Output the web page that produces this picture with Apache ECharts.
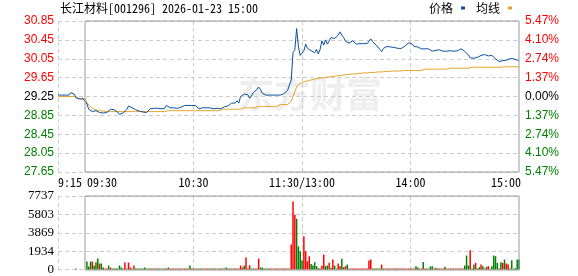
<!DOCTYPE html>
<html><head><meta charset="utf-8">
<script src="https://cdn.jsdelivr.net/npm/echarts@6/dist/echarts.min.js"></script>
<style>html,body{margin:0;padding:0;background:#fff}#c{width:578px;height:276px}</style>
</head><body><div id="c"></div>
<script>
const stockTitle = '长江材料[001296] 2026-01-23 15:00';
const legendNames = ['价格', '均线'];
const watermarkText = '东方财富';
const preClose = 29.25;
const priceTicks = ['27.65','28.05','28.45','28.85','29.25','29.65','30.05','30.45','30.85'];
const pctTicks = ['5.47%','4.10%','2.74%','1.37%','0.00%','1.37%','2.74%','4.10%','5.47%'];
const volTicks = ['0','1934','3869','5803','7737'];
const volMax = 7737;
const xTickIdx = [0, 15, 75, 135, 195, 255];
const xTickText = ['9:15', '09:30', '10:30', '11:30/13:00', '14:00', '15:00'];
const xGridIdx = [0, 75, 135, 195];

// price (9:15-9:29 auction, 9:30-11:30, 13:01-15:00)
const pricePre = [29.28,29.28,29.28,29.28,29.28,29.28,29.28,29.33,29.35,29.30,29.22,29.20,29.20,29.20,29.20];
const priceAM = [
29.21,29.09,28.98,28.95,28.93,28.93,28.95,28.94,28.91,28.92,
28.90,28.90,28.91,28.91,28.98,29.00,28.97,28.93,28.92,28.87,
28.88,28.90,28.91,28.97,29.05,29.05,29.01,29.00,28.97,28.95,
28.94,28.92,28.92,28.92,28.91,28.93,28.99,29.01,29.00,29.00,
29.00,28.98,28.99,28.98,29.00,29.06,29.02,29.01,29.01,29.01,
29.00,29.00,29.00,29.02,29.06,29.06,29.08,29.06,29.04,29.06,
29.04,29.06,29.02,28.99,28.97,29.01,29.01,29.01,29.01,29.01,
29.00,28.99,29.01,29.00,29.01,28.99,28.99,29.03,29.05,29.05,
29.09,29.11,29.12,29.11,29.16,29.11,29.25,29.24,29.30,29.26,
29.29,29.21,29.26,29.33,29.34,29.40,29.45,29.40,29.32,29.29,
29.28,29.28,29.28,29.28,29.28,29.28,29.28,29.28,29.28,29.28,
29.31,29.33,29.38,29.41,29.60,30.18,30.24,30.69,30.30,30.12,
30.15];
const pricePM = [
30.22,30.36,30.27,30.29,30.22,30.25,30.18,30.25,30.15,30.25,
30.43,30.34,30.45,30.36,30.38,30.50,30.53,30.48,30.49,30.55,
30.62,30.55,30.50,30.42,30.39,30.38,30.40,30.43,30.40,30.36,
30.37,30.37,30.37,30.37,30.37,30.37,30.40,30.47,30.41,30.38,
30.34,30.30,30.25,30.20,30.27,30.28,30.31,30.31,30.30,30.30,
30.29,30.28,30.27,30.27,30.27,30.28,30.32,30.36,30.39,30.40,
30.36,30.31,30.29,30.30,30.28,30.26,30.22,30.26,30.24,30.26,
30.23,30.21,30.22,30.23,30.24,30.24,30.23,30.21,30.21,30.21,
30.22,30.22,30.21,30.21,30.22,30.22,30.24,30.26,30.25,30.21,
30.17,30.13,30.07,30.10,30.06,30.10,30.08,30.10,30.12,30.16,
30.14,30.12,30.11,30.11,30.12,30.11,30.05,30.02,29.99,29.97,
30.01,30.04,30.02,30.04,30.05,30.04,30.05,30.03,30.02,30.02];

// average price
const avgPre = [29.25,29.25,29.25,29.25,29.25,29.25,29.25,29.25,29.25,29.25,29.25,29.20,29.20,29.20,29.20];
const avgAM = [
29.20,29.12,29.07,29.03,29.00,28.98,28.97,28.96,28.95,28.94,
28.94,28.94,28.93,28.93,28.93,28.93,28.93,28.93,28.93,28.93,
28.93,28.93,28.93,28.93,28.93,28.93,28.93,28.93,28.93,28.93,
28.93,28.93,28.93,28.93,28.93,28.93,28.93,28.93,28.93,28.93,
28.93,28.93,28.93,28.93,28.93,28.95,28.95,28.95,28.95,28.95,
28.95,28.95,28.95,28.95,28.95,28.95,28.95,28.95,28.95,28.95,
28.95,28.95,28.95,28.95,28.95,28.95,28.95,28.95,28.95,28.95,
28.95,28.95,28.95,28.95,28.95,28.98,28.98,28.98,28.98,28.98,
28.98,28.98,28.98,28.98,28.98,28.98,28.98,29.01,29.01,29.01,
29.01,29.01,29.01,29.01,29.01,29.01,29.04,29.04,29.04,29.04,
29.04,29.04,29.04,29.04,29.04,29.04,29.04,29.08,29.08,29.08,
29.08,29.08,29.08,29.10,29.15,29.25,29.35,29.45,29.50,29.53,
29.55];
const avgPM = [
29.56,29.57,29.58,29.59,29.60,29.61,29.62,29.63,29.63,29.64,
29.64,29.65,29.66,29.66,29.67,29.67,29.68,29.68,29.69,29.69,
29.70,29.70,29.70,29.71,29.71,29.72,29.72,29.73,29.73,29.73,
29.74,29.74,29.74,29.75,29.75,29.75,29.76,29.76,29.76,29.76,
29.77,29.77,29.77,29.77,29.78,29.78,29.78,29.78,29.78,29.79,
29.79,29.79,29.79,29.79,29.80,29.80,29.80,29.80,29.80,29.80,
29.80,29.80,29.80,29.80,29.80,29.80,29.83,29.83,29.83,29.83,
29.83,29.83,29.83,29.83,29.83,29.83,29.83,29.83,29.83,29.83,
29.83,29.85,29.85,29.85,29.85,29.85,29.85,29.85,29.85,29.85,
29.85,29.85,29.87,29.87,29.87,29.87,29.87,29.87,29.87,29.87,
29.87,29.87,29.87,29.87,29.87,29.87,29.87,29.87,29.87,29.87,
29.87,29.88,29.88,29.88,29.88,29.88,29.88,29.88,29.88,29.88];

// volume (hands) and direction r = up, g = down
const volPre = [null,null,null,null,null,null,null,null,null,null,100,null,null,null,null];
const volAM = [
null,840,310,840,840,420,770,1150,630,630,
210,105,105,420,210,105,105,105,105,420,
210,105,730,105,730,210,105,420,105,105,
105,105,105,210,105,105,105,105,105,105,
105,105,105,105,105,105,210,105,105,105,
105,105,105,105,105,105,105,105,420,105,
105,105,105,105,105,105,105,105,105,105,
105,105,105,105,105,105,105,105,210,105,
105,105,105,105,105,105,420,210,420,1260,
105,450,105,105,105,105,1150,210,210,105,
105,105,105,105,105,105,105,105,105,105,
105,105,105,105,2620,7150,5760,5340,2440,1920,
940];
const volPM = [
3490,1920,870,1400,590,420,770,350,140,105,
420,1570,350,420,700,175,1050,420,105,630,
350,1120,245,350,520,105,105,105,105,105,
105,105,105,105,105,105,940,1050,105,105,
105,105,105,520,105,105,105,105,105,105,
105,105,105,105,105,105,105,105,105,105,
105,105,350,210,105,105,800,105,105,105,
315,350,105,175,105,105,105,105,280,105,
105,105,105,105,105,105,105,105,105,420,
1470,420,2020,105,520,700,105,245,520,350,
105,280,350,105,350,1470,1400,700,105,770,
700,1050,630,520,105,980,70,140,1050,1050];
const dirPre = ['ggggggggggggggg'];
const dirAM = ['ggggrgggrg','grrgrggggg','ggrrrrgrgg','ggggggrrgg','rgggrrgrgr','rgrrgrgrgr',
  'grgggrrgrg','grgrggrggg','rrgrgrrrgr','grggrrrggg','rggrrrgrrr','grrgrrrggg','g'];
const dirPM = ['rrrrgggggr','rrggrgrggr','rggrgrrrrr','rrrrrrrrrg','gggrggrrgr','rrgrrrrrrg',
  'rrggrrgrrg','ggrgrrgrgr','rgrrgrrgrg','ggrggrggrg','rgrrggggrg','rgrrgggggg'];

const price = pricePre.concat(priceAM, pricePM);
const avg = avgPre.concat(avgAM, avgPM);
const vol = volPre.concat(volAM, volPM);
const dirs = dirPre.concat(dirAM, dirPM).join('').split('');

const times = [];
const fmt = m => String(Math.floor(m / 60)).padStart(2, '0') + ':' + String(m % 60).padStart(2, '0');
for (let m = 555; m < 570; m++) times.push(fmt(m));
for (let m = 570; m <= 690; m++) times.push(fmt(m));
for (let m = 781; m <= 900; m++) times.push(fmt(m));

[price, avg, vol, dirs, times].forEach((a, k) => { if (a.length !== 256) throw new Error('length ' + k + ' = ' + a.length); });

const RED = '#ff0000', GREEN = '#008000', BLACK = '#000000';
const MONO = "'Noto Sans Mono CJK SC','Noto Sans CJK SC','DejaVu Sans Mono',monospace";
const SANS = "'Liberation Sans',Arial,sans-serif";
const SERIF = "'Liberation Serif','Times New Roman',serif";
const dashed = { color: '#cccccc', width: 1, type: [4, 3] };

const labelFor = i => xTickText[xTickIdx.indexOf(i)];
const chart = echarts.init(document.getElementById('c'), null, { renderer: 'canvas' });
chart.setOption({
  animation: false,
  backgroundColor: '#ffffff',
  title: { text: stockTitle, left: 60, top: 2, padding: 0,
    textStyle: { fontSize: 12, fontWeight: 'normal', color: BLACK, fontFamily: MONO } },
  legend: { data: legendNames, right: 66, top: 2, padding: 0, icon: 'rect', itemWidth: 4, itemHeight: 3,
    itemGap: 11, align: 'right',
    textStyle: { fontSize: 12, color: BLACK, fontFamily: MONO, padding: [0, 3, 0, 0] } },
  graphic: [{ type: 'text', left: 238, top: 76, z: -10, silent: true,
    style: { text: watermarkText, fill: '#eeeeee', font: 'bold 36px "Noto Sans CJK SC"' } }],
  grid: [
    { left: 58, right: 59, top: 21, height: 151 },
    { left: 58, right: 59, top: 196, height: 74 },
    { left: 85, right: 59, top: 21, height: 151, show: true, borderColor: '#999999', borderWidth: 1, backgroundColor: 'transparent', z: 4 },
    { left: 85, right: 59, top: 196, height: 74, show: true, borderColor: '#999999', borderWidth: 1, backgroundColor: 'transparent', z: 4 }
  ],
  xAxis: [
    { gridIndex: 0, type: 'category', data: times, boundaryGap: false,
      axisLine: { show: false }, axisTick: { show: false },
      splitLine: { show: true, interval: i => xGridIdx.includes(i), lineStyle: dashed },
      axisLabel: { interval: i => xTickIdx.includes(i), margin: 4, fontSize: 12, color: BLACK, fontFamily: MONO,
        formatter: (v, i) => {
          const t = labelFor(i);
          if (i === 0) return '{l|' + t + '}';
          if (i === 15) return '{p|' + t + '}';
          if (i === 255) return '{r|' + t + '}';
          return '{c|' + t + '}';
        },
        rich: {
          l: { fontSize: 12, fontFamily: MONO, color: BLACK, padding: [0, 0, 0, 24] },
          p: { fontSize: 12, fontFamily: MONO, color: BLACK, padding: [0, 0, 0, 34] },
          r: { fontSize: 12, fontFamily: MONO, color: BLACK, padding: [0, 26, 0, 0] },
          c: { fontSize: 12, fontFamily: MONO, color: BLACK }
        } } },
    { gridIndex: 1, type: 'category', data: times, boundaryGap: false,
      axisLine: { show: false }, axisTick: { show: false }, axisLabel: { show: false },
      splitLine: { show: true, interval: i => xGridIdx.includes(i), lineStyle: dashed } },
    { gridIndex: 2, type: 'value', min: 0, max: 1, show: false },
    { gridIndex: 3, type: 'value', min: 0, max: 1, show: false }
  ],
  yAxis: [
    { gridIndex: 0, type: 'value', min: 27.65, max: 30.85, show: false },
    { gridIndex: 0, type: 'value', position: 'left', min: 0, max: 8, interval: 1,
      axisLine: { show: false }, axisTick: { show: false },
      splitLine: { show: true, lineStyle: dashed },
      axisLabel: { margin: 4, fontSize: 12, fontFamily: SANS,
        formatter: v => priceTicks[Number(v)],
        color: v => { const p = parseFloat(priceTicks[Number(v)]); return p > preClose ? RED : (p < preClose ? GREEN : BLACK); } } },
    { gridIndex: 0, type: 'value', position: 'right', min: 0, max: 8, interval: 1,
      axisLine: { show: false }, axisTick: { show: false }, splitLine: { show: false },
      axisLabel: { margin: 6, fontSize: 12, fontFamily: SANS,
        formatter: v => pctTicks[Number(v)],
        color: v => { const n = Number(v); return n > 4 ? RED : (n < 4 ? GREEN : BLACK); } } },
    { gridIndex: 1, type: 'value', position: 'left', min: 0, max: volMax, interval: volMax / 4,
      axisLine: { show: false }, axisTick: { show: false },
      splitLine: { show: true, lineStyle: dashed },
      axisLabel: { margin: 4, fontSize: 13, fontFamily: SERIF, color: BLACK,
        formatter: v => volTicks[Math.round(Number(v) / (volMax / 4))] } },
    { gridIndex: 2, type: 'value', min: 0, max: 1, show: false },
    { gridIndex: 3, type: 'value', min: 0, max: 1, show: false }
  ],
  series: [
    { name: legendNames[0], type: 'line', xAxisIndex: 0, yAxisIndex: 0, data: price, showSymbol: false, symbol: 'none',
      color: '#0b4f9f', lineStyle: { width: 1, color: '#0b4f9f' }, z: 3 },
    { name: legendNames[1], type: 'line', xAxisIndex: 0, yAxisIndex: 0, data: avg, showSymbol: false, symbol: 'none',
      color: '#e2a52a', lineStyle: { width: 1, color: '#e2a52a' }, z: 2 },
    { name: '成交量', type: 'bar', xAxisIndex: 1, yAxisIndex: 3, barWidth: 1.5,
      data: vol.map((v, i) => v == null ? '-' : { value: v, itemStyle: { color: dirs[i] === 'r' ? RED : GREEN } }) }
  ]
});
</script></body></html>
